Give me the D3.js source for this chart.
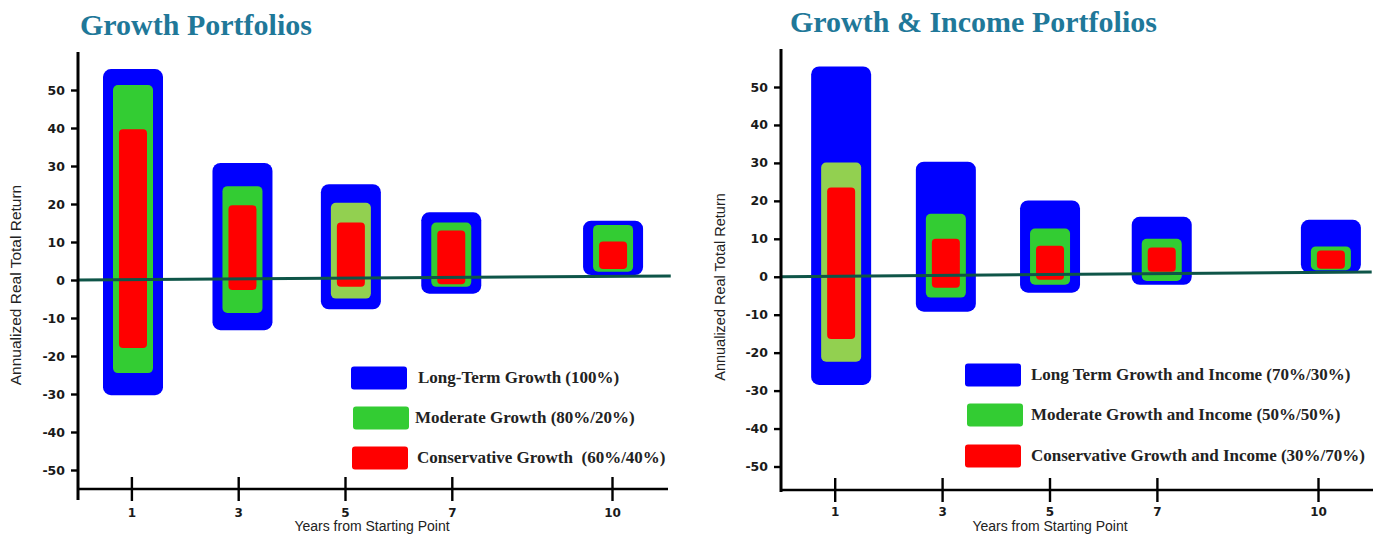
<!DOCTYPE html>
<html lang="en">
<head>
<meta charset="utf-8">
<title>Growth and Income Portfolios</title>
<script src="https://cdnjs.cloudflare.com/ajax/libs/d3/7.8.5/d3.min.js"></script>
<style>
  body { margin: 0; background: #fff; }
  svg { display: block; }
</style>
</head>
<body>
<script>
// ---- data ----
var years = [1, 3, 5, 7, 10];
var yTicks = [-50, -40, -30, -20, -10, 0, 10, 20, 30, 40, 50];

// [low, high] annualized real total return per holding period
var growthLongTerm     = [[-30.3, 55.5], [-13.2, 30.8], [-7.7, 25.2], [-3.6, 17.8], [1.3, 15.6]];
var growthModerate     = [[-24.5, 51.3], [-8.7, 24.7], [-4.9, 20.3], [-1.8, 15.1], [2.2, 14.5]];
var growthConservative = [[-17.9, 39.7], [-2.6, 19.7], [-1.8, 15.1], [-1.1, 13.0], [2.9, 10.1]];

var incomeLongTerm     = [[-28.5, 55.4], [-9.2, 30.3], [-4.2, 20.1], [-2.1, 15.8], [1.1, 15.0]];
var incomeModerate     = [[-22.4, 30.1], [-5.5, 16.6], [-2.1, 12.7], [-1.1, 10.0], [1.7, 8.0]];
var incomeConservative = [[-16.4, 23.5], [-2.9, 10.0], [-0.8, 8.2], [1.3, 7.7], [2.1, 6.9]];

// where each bar stack sits along the years axis (slightly off the ticks in the original)
var growthBarYears = [1.03, 3.08, 5.11, 6.99, 10.02];
var incomeBarYears = [1.12, 3.07, 5.01, 7.09, 10.24];

// trend line across the chart: [startYear, value], [endYear, value]
var growthTrend = [[0, 0], [11.1, 1.05]];
var incomeTrend = [[0, 0], [11.0, 1.25]];

// years whose middle band uses the lighter green
var growthLightGreen = [5];
var incomeLightGreen = [1];

var growthLegend = ["Long-Term Growth (100%)", "Moderate Growth (80%/20%)", "Conservative Growth  (60%/40%)"];
var incomeLegend = ["Long Term Growth and Income (70%/30%)", "Moderate Growth and Income (50%/50%)", "Conservative Growth and Income (30%/70%)"];

// ---- drawing ----
var BLUE = "#0000ff", GREEN = "#33cc33", LIGHTGREEN = "#92d050", RED = "#ff0000";
var tickFont = "'DejaVu Sans', Verdana, sans-serif";
var serif = "'Liberation Serif', 'Times New Roman', serif";

var svg = d3.select("body").append("svg")
    .attr("width", 1383)
    .attr("height", 535);

function drawPanel(p) {
  var x = d3.scaleLinear().domain([0, 11]).range(p.xRange);
  var y = d3.scaleLinear().domain([-50, 50]).range(p.yRange);
  var g = svg.append("g");

  // title
  g.append("text")
      .attr("x", p.titleX).attr("y", p.titleY)
      .attr("font-family", serif).attr("font-weight", "bold")
      .attr("font-size", 30).attr("fill", "#1f7899")
      .text(p.title);

  // bars: widest first
  var layers = [
    { data: p.longTerm, w: 60, rx: 8, color: function() { return BLUE; } },
    { data: p.moderate, w: 40, rx: 5, color: function(d, i) { return p.lightGreen.indexOf(years[i]) >= 0 ? LIGHTGREEN : GREEN; } },
    { data: p.conservative, w: 28, rx: 4, color: function() { return RED; } }
  ];
  layers.forEach(function(l) {
    g.append("g").selectAll("rect")
      .data(l.data)
      .enter().append("rect")
        .attr("x", function(d, i) { return x(p.barYears[i]) - l.w / 2; })
        .attr("y", function(d) { return y(d[1]); })
        .attr("width", l.w)
        .attr("height", function(d) { return y(d[0]) - y(d[1]); })
        .attr("rx", l.rx)
        .attr("fill", l.color);
  });

  // trend line
  g.append("line")
      .attr("x1", x(p.trend[0][0])).attr("y1", y(p.trend[0][1]))
      .attr("x2", x(p.trend[1][0])).attr("y2", y(p.trend[1][1]))
      .attr("stroke", "#0e5548").attr("stroke-width", 3);

  // y axis (plain hyphen for negatives, like the original)
  var yAxis = g.append("g")
      .attr("transform", "translate(" + x(0) + ",0)")
      .call(d3.axisLeft(y).tickValues(yTicks).tickSize(7).tickPadding(6)
        .tickFormat(function(d) { return String(d); }));
  yAxis.select(".domain").remove();
  yAxis.selectAll(".tick line").attr("stroke", "#000").attr("stroke-width", 2.4);
  yAxis.selectAll(".tick text")
      .attr("font-family", tickFont).attr("font-weight", "bold")
      .attr("font-size", 12.5).attr("fill", "#1a1a1a");
  g.append("line")
      .attr("x1", x(0)).attr("x2", x(0))
      .attr("y1", y(60)).attr("y2", p.yAxisBottom)
      .attr("stroke", "#000").attr("stroke-width", 3);

  // x axis
  var xAxis = g.append("g")
      .attr("transform", "translate(0," + p.xAxisY + ")")
      .call(d3.axisBottom(x).tickValues(years).tickSize(12));
  xAxis.select(".domain").remove();
  xAxis.selectAll(".tick line").attr("y1", -12).attr("stroke", "#000").attr("stroke-width", 2.4);
  xAxis.selectAll(".tick text")
      .attr("y", p.xLabelOffset)
      .attr("font-family", tickFont).attr("font-weight", "bold")
      .attr("font-size", 12).attr("fill", "#1a1a1a");
  g.append("line")
      .attr("x1", x(0)).attr("x2", p.xAxisEnd)
      .attr("y1", p.xAxisY).attr("y2", p.xAxisY)
      .attr("stroke", "#000").attr("stroke-width", 2.5);

  // axis titles
  g.append("text")
      .attr("transform", "translate(" + p.yTitle[0] + "," + p.yTitle[1] + ") rotate(-90)")
      .attr("text-anchor", "middle")
      .attr("font-family", "'Liberation Sans', Arial, sans-serif")
      .attr("font-size", p.yTitleSize).attr("fill", "#222")
      .text("Annualized Real Total Return");
  g.append("text")
      .attr("x", p.xTitle[0]).attr("y", p.xTitle[1])
      .attr("text-anchor", "middle")
      .attr("font-family", "'Liberation Sans', Arial, sans-serif")
      .attr("font-size", 14).attr("fill", "#222")
      .text("Years from Starting Point");

  // legend
  var colors = [BLUE, GREEN, RED];
  var leg = g.append("g").selectAll("g")
      .data(p.legend)
      .enter().append("g");
  leg.append("rect")
      .attr("x", function(d, i) { return p.swatchX[i]; })
      .attr("y", function(d, i) { return p.legendY[i] - 11.5; })
      .attr("width", 56).attr("height", 23).attr("rx", 3)
      .attr("fill", function(d, i) { return colors[i]; });
  leg.append("text")
      .attr("x", function(d, i) { return p.textX[i]; })
      .attr("y", function(d, i) { return p.legendY[i] + 5; })
      .attr("font-family", serif).attr("font-weight", "bold")
      .attr("font-size", 17).attr("fill", "#222")
      .attr("xml:space", "preserve")
      .style("white-space", "pre")
      .text(function(d) { return d; });
}

drawPanel({
  title: "Growth Portfolios", titleX: 80, titleY: 35,
  xRange: [78, 665.4], yRange: [470, 90],
  xAxisY: 489, xAxisEnd: 668, yAxisBottom: 500, xLabelOffset: 19,
  longTerm: growthLongTerm, moderate: growthModerate, conservative: growthConservative,
  barYears: growthBarYears, trend: growthTrend, lightGreen: growthLightGreen,
  yTitle: [21, 285], yTitleSize: 15.5, xTitle: [372, 531],
  legend: growthLegend,
  swatchX: [351, 353, 352], legendY: [378, 418, 458], textX: [418, 415, 417]
});

drawPanel({
  title: "Growth & Income Portfolios", titleX: 790, titleY: 32,
  xRange: [781, 1371.7], yRange: [466.5, 87],
  xAxisY: 490, xAxisEnd: 1373, yAxisBottom: 492, xLabelOffset: 17,
  longTerm: incomeLongTerm, moderate: incomeModerate, conservative: incomeConservative,
  barYears: incomeBarYears, trend: incomeTrend, lightGreen: incomeLightGreen,
  yTitle: [725, 287], yTitleSize: 14.5, xTitle: [1050, 531],
  legend: incomeLegend,
  swatchX: [965, 967, 965], legendY: [375, 415, 456], textX: [1031, 1031, 1031]
});
</script>
</body>
</html>
